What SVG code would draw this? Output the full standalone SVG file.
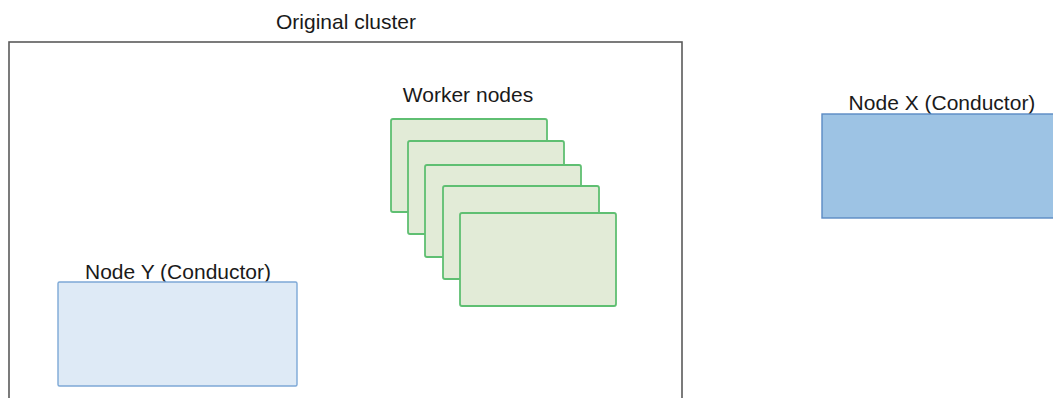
<svg xmlns="http://www.w3.org/2000/svg" width="1053" height="398" viewBox="0 0 1053 398">
<style>
text{font-family:"Liberation Sans",Arial,sans-serif;font-size:21px;fill:#1a1a1a;text-anchor:middle}
.cluster{fill:#ffffff;stroke:#5a5a5a;stroke-width:1.6}
.worker{fill:#e2ebd7;stroke:#5fbf72;stroke-width:1.8}
.nodex{fill:#9dc3e4;stroke:#5a8ac4;stroke-width:1.4}
.nodey{fill:#deeaf6;stroke:#7da8d6;stroke-width:1.4}
</style>
<g id="cluster">
<rect class="cluster" x="9" y="42" width="673" height="380"/>
<text x="346" y="29">Original cluster</text>
</g>
<g id="workers">
<text x="468" y="102">Worker nodes</text>
<rect class="worker" x="391" y="119" width="156" height="93" rx="2"/>
<rect class="worker" x="408" y="141" width="156" height="93" rx="2"/>
<rect class="worker" x="425" y="165" width="156" height="92" rx="2"/>
<rect class="worker" x="443" y="186" width="156" height="93" rx="2"/>
<rect class="worker" x="460" y="213" width="156" height="93" rx="2"/>
</g>
<g id="nodeX">
<text x="942" y="110">Node X (Conductor)</text>
<rect class="nodex" x="822" y="114" width="240" height="104"/>
</g>
<g id="nodeY">
<text x="178" y="279">Node Y (Conductor)</text>
<rect class="nodey" x="58" y="282" width="239" height="104" rx="1.5"/>
</g>
<g id="connectors"/>
</svg>
